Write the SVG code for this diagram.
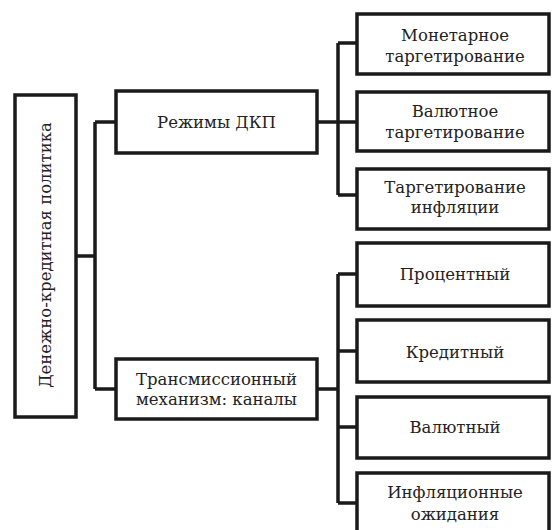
<svg xmlns="http://www.w3.org/2000/svg" width="552" height="530" viewBox="0 0 552 530">
<style>
.box{fill:#fff;stroke:#1a1a1a;stroke-width:3.5}
.ln{fill:none;stroke:#1a1a1a;stroke-width:3.5;stroke-linejoin:miter}
.t{font-family:'DejaVu Serif',serif;font-size:16.5px;fill:#222;text-anchor:middle}
</style>
<rect width="552" height="530" fill="#fff"/>
<g id="connectors">
<path class="ln" d="M76 256H95M95 122V389M95 122H116M95 389H116"/>
<path class="ln" d="M317 122H357M338 43V195M338 43H357M338 195H357"/>
<path class="ln" d="M317 389H338M338 274V503M338 274H357M338 351H357M338 427H357M338 503H357"/>
</g>
<g id="root"><rect class="box" x="15" y="95" width="61" height="322"/><text class="t" transform="translate(51 255) rotate(-90)">Денежно-кредитная политика</text></g>
<g id="regimes"><rect class="box" x="116" y="91" width="201" height="62"/><text class="t" x="216.5" y="128">Режимы ДКП</text></g>
<g id="transmission"><rect class="box" x="116" y="359" width="201" height="60"/><text class="t" x="216.5" y="385">Трансмиссионный</text><text class="t" x="216.5" y="405">механизм: каналы</text></g>
<g id="monetary"><rect class="box" x="357" y="14" width="192" height="60"/><text class="t" x="455" y="41">Монетарное</text><text class="t" x="455" y="62">таргетирование</text></g>
<g id="currency-target"><rect class="box" x="357" y="92" width="192" height="59"/><text class="t" x="455" y="117">Валютное</text><text class="t" x="455" y="138">таргетирование</text></g>
<g id="inflation-target"><rect class="box" x="357" y="169" width="192" height="60"/><text class="t" x="455" y="193">Таргетирование</text><text class="t" x="455" y="213">инфляции</text></g>
<g id="interest"><rect class="box" x="357" y="243" width="192" height="63"/><text class="t" x="455" y="280">Процентный</text></g>
<g id="credit"><rect class="box" x="357" y="320" width="192" height="62"/><text class="t" x="455" y="358">Кредитный</text></g>
<g id="fx"><rect class="box" x="357" y="397" width="192" height="61"/><text class="t" x="455" y="433">Валютный</text></g>
<g id="expectations"><rect class="box" x="357" y="473" width="192" height="70"/><text class="t" x="455" y="498">Инфляционные</text><text class="t" x="455" y="520">ожидания</text></g>
</svg>
